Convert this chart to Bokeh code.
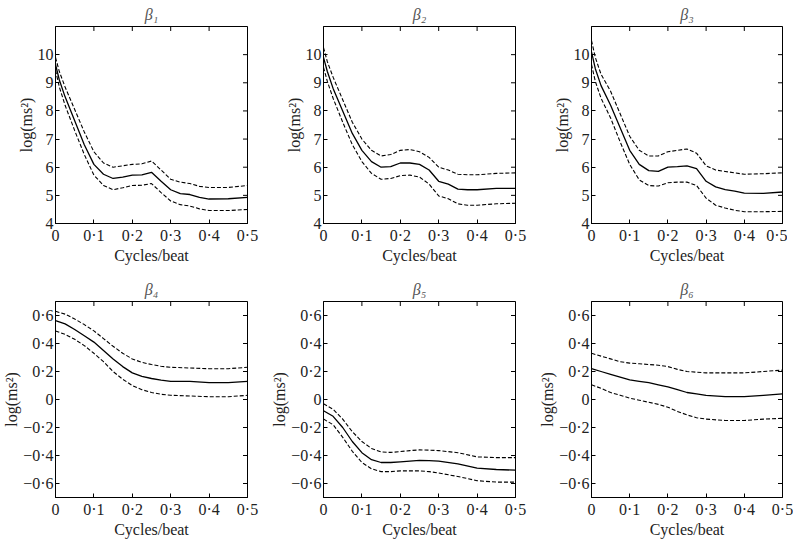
import math
from bokeh.plotting import figure
from bokeh.layouts import gridplot
from bokeh.models import Range1d, FixedTicker
from bokeh.embed import file_html
from bokeh.resources import INLINE

# ---- data ----
x_top = [0, 0.01, 0.025, 0.05, 0.075, 0.1, 0.125, 0.15, 0.175, 0.2, 0.225, 0.25,
         0.275, 0.3, 0.325, 0.35, 0.375, 0.4, 0.45, 0.5]
b1_mid = [9.65, 9.1, 8.5, 7.65, 6.8, 6.1, 5.75, 5.6, 5.65, 5.72, 5.73, 5.82, 5.5, 5.2, 5.06, 5.03, 4.93, 4.87, 4.88, 4.93]
b1_up = [9.9, 9.4, 8.85, 8.05, 7.25, 6.55, 6.15, 6.0, 6.05, 6.1, 6.12, 6.22, 5.9, 5.57, 5.47, 5.42, 5.32, 5.28, 5.28, 5.35]
b1_lo = [9.45, 8.85, 8.2, 7.3, 6.45, 5.72, 5.35, 5.2, 5.27, 5.35, 5.36, 5.42, 5.1, 4.8, 4.67, 4.62, 4.52, 4.46, 4.46, 4.5]

b2_mid = [9.9, 9.4, 8.8, 8.0, 7.2, 6.6, 6.2, 6.0, 6.02, 6.15, 6.15, 6.1, 5.9, 5.5, 5.4, 5.22, 5.2, 5.2, 5.25, 5.25]
b2_up = [10.25, 9.75, 9.2, 8.4, 7.6, 7.0, 6.6, 6.4, 6.45, 6.6, 6.63, 6.55, 6.35, 6.0, 5.9, 5.75, 5.73, 5.73, 5.78, 5.8]
b2_lo = [9.55, 9.05, 8.45, 7.6, 6.8, 6.2, 5.78, 5.57, 5.6, 5.7, 5.72, 5.65, 5.4, 4.98, 4.88, 4.7, 4.65, 4.65, 4.7, 4.72]

b3_mid = [10.1, 9.5, 8.9, 8.2, 7.4, 6.6, 6.1, 5.88, 5.85, 6.0, 6.02, 6.05, 5.95, 5.5, 5.3, 5.2, 5.15, 5.08, 5.07, 5.12]
b3_up = [10.5, 9.9, 9.3, 8.7, 7.9, 7.1, 6.6, 6.4, 6.4, 6.55, 6.6, 6.65, 6.5, 6.05, 5.9, 5.85, 5.8, 5.75, 5.77, 5.8]
b3_lo = [9.65, 9.05, 8.45, 7.75, 6.9, 6.1, 5.55, 5.35, 5.33, 5.45, 5.47, 5.47, 5.35, 4.9, 4.65, 4.55, 4.47, 4.42, 4.42, 4.43]

x_bot = [0, 0.025, 0.05, 0.075, 0.1, 0.125, 0.15, 0.175, 0.2, 0.225, 0.25, 0.275, 0.3,
         0.35, 0.4, 0.45, 0.5]
b4_mid = [0.564, 0.54, 0.5, 0.455, 0.41, 0.35, 0.29, 0.235, 0.19, 0.165, 0.15, 0.138, 0.13, 0.13, 0.12, 0.12, 0.13]
b4_up = [0.63, 0.61, 0.575, 0.535, 0.49, 0.435, 0.38, 0.33, 0.29, 0.265, 0.25, 0.237, 0.23, 0.225, 0.22, 0.22, 0.23]
b4_lo = [0.49, 0.465, 0.43, 0.385, 0.33, 0.27, 0.2, 0.145, 0.1, 0.07, 0.05, 0.037, 0.03, 0.025, 0.02, 0.02, 0.03]

b5_mid = [-0.08, -0.12, -0.2, -0.3, -0.38, -0.43, -0.45, -0.45, -0.445, -0.44, -0.435, -0.437, -0.44, -0.46, -0.49, -0.5, -0.505]
b5_up = [-0.03, -0.07, -0.14, -0.23, -0.3, -0.35, -0.375, -0.378, -0.372, -0.365, -0.36, -0.362, -0.365, -0.38, -0.41, -0.415, -0.415]
b5_lo = [-0.14, -0.18, -0.27, -0.37, -0.45, -0.495, -0.515, -0.515, -0.51, -0.51, -0.51, -0.515, -0.525, -0.55, -0.58, -0.59, -0.59]

b6_mid = [0.22, 0.2, 0.18, 0.16, 0.14, 0.13, 0.12, 0.105, 0.09, 0.07, 0.05, 0.04, 0.03, 0.02, 0.02, 0.03, 0.04]
b6_up = [0.33, 0.31, 0.29, 0.27, 0.26, 0.255, 0.25, 0.245, 0.235, 0.215, 0.2, 0.195, 0.19, 0.19, 0.19, 0.2, 0.21]
b6_lo = [0.105, 0.08, 0.05, 0.03, 0.01, -0.005, -0.02, -0.035, -0.055, -0.085, -0.11, -0.13, -0.14, -0.15, -0.15, -0.14, -0.135]

titles = ["β₁", "β₂", "β₃", "β₄", "β₅", "β₆"]
x_ticks = [0, 0.1, 0.2, 0.3, 0.4, 0.5]
x_tick_labels = ["0", "0·1", "0·2", "0·3", "0·4", "0·5"]
y_ticks_top = [4, 5, 6, 7, 8, 9, 10]
y_ticks_bot = [-0.6, -0.4, -0.2, 0, 0.2, 0.4, 0.6]
y_tick_labels_bot = ["−0·6", "−0·4", "−0·2", "0", "0·2", "0·4", "0·6"]

FONT = "Liberation Serif"


def make_panel(title, xs, mid, up, lo, yrange, yticks, ylabels, fw, fh,
               bl, br, bt, bb):
    p = figure(frame_width=fw, frame_height=fh, output_backend="svg", toolbar_location=None,
               x_range=Range1d(0, 0.5), y_range=Range1d(*yrange),
               min_border_left=bl, min_border_right=br, min_border_top=bt, min_border_bottom=bb)
    p.title.text = title
    p.title.align = "center"
    p.title.text_font = FONT
    p.title.text_font_style = "italic"
    p.title.text_font_size = "16px"
    p.title.text_color = "#555555"
    p.title.standoff = 7
    p.xgrid.visible = False
    p.ygrid.visible = False
    p.outline_line_color = "black"
    p.background_fill_color = "white"
    p.border_fill_color = "white"

    p.line(xs, mid, line_color="black", line_width=1.3)
    p.line(xs, up, line_color="black", line_width=1.1, line_dash="4 2")
    p.line(xs, lo, line_color="black", line_width=1.1, line_dash="4 2")

    # inward ticks on the top and right edges (half of each dash is clipped by the frame)
    p.scatter(x_ticks, [yrange[1]] * len(x_ticks), marker="dash", angle=math.pi / 2,
              size=9, line_color="black", line_width=1)
    p.scatter([0.5] * len(yticks), yticks, marker="dash", size=9,
              line_color="black", line_width=1)

    xa = p.xaxis[0]
    xa.ticker = FixedTicker(ticks=x_ticks)
    xa.major_label_overrides = {t: l for t, l in zip(x_ticks, x_tick_labels)}
    xa.axis_label = "Cycles/beat"
    ya = p.yaxis[0]
    ya.ticker = FixedTicker(ticks=yticks)
    ya.major_label_overrides = {t: l for t, l in zip(yticks, ylabels)}
    ya.axis_label = "log(ms²)"
    for ax in (xa, ya):
        ax.major_tick_in = 4
        ax.major_tick_out = 0
        ax.minor_tick_line_color = None
        ax.axis_line_color = "black"
        ax.major_tick_line_color = "black"
        ax.major_label_text_font = FONT
        ax.major_label_text_font_size = "16px"
        ax.major_label_text_color = "#222222"
        ax.axis_label_text_font = FONT
        ax.axis_label_text_font_size = "16px"
        ax.axis_label_text_font_style = "normal"
        ax.axis_label_text_color = "#222222"
    xa.major_label_standoff = 3
    xa.axis_label_standoff = 0
    ya.major_label_standoff = 2
    ya.axis_label_standoff = 0
    return p


top_labels = [str(t) for t in y_ticks_top]
series_top = [(b1_mid, b1_up, b1_lo), (b2_mid, b2_up, b2_lo), (b3_mid, b3_up, b3_lo)]
series_bot = [(b4_mid, b4_up, b4_lo), (b5_mid, b5_up, b5_lo), (b6_mid, b6_up, b6_lo)]
fwidths = [192, 192, 191]
rights = [21, 21, 14]

row1 = []
for i in range(3):
    m, u, l = series_top[i]
    row1.append(make_panel(titles[i], x_top, m, u, l, (4, 11), y_ticks_top, top_labels,
                           fwidths[i], 197, 46, rights[i], 22, 52))
row2 = []
for i in range(3):
    m, u, l = series_bot[i]
    row2.append(make_panel(titles[3 + i], x_bot, m, u, l, (-0.7, 0.7), y_ticks_bot,
                           y_tick_labels_bot, fwidths[i], 196, 46, rights[i], 26, 30))

grid = gridplot([row1, row2], toolbar_location=None)
open("out.html", "w").write(file_html(grid, INLINE))
